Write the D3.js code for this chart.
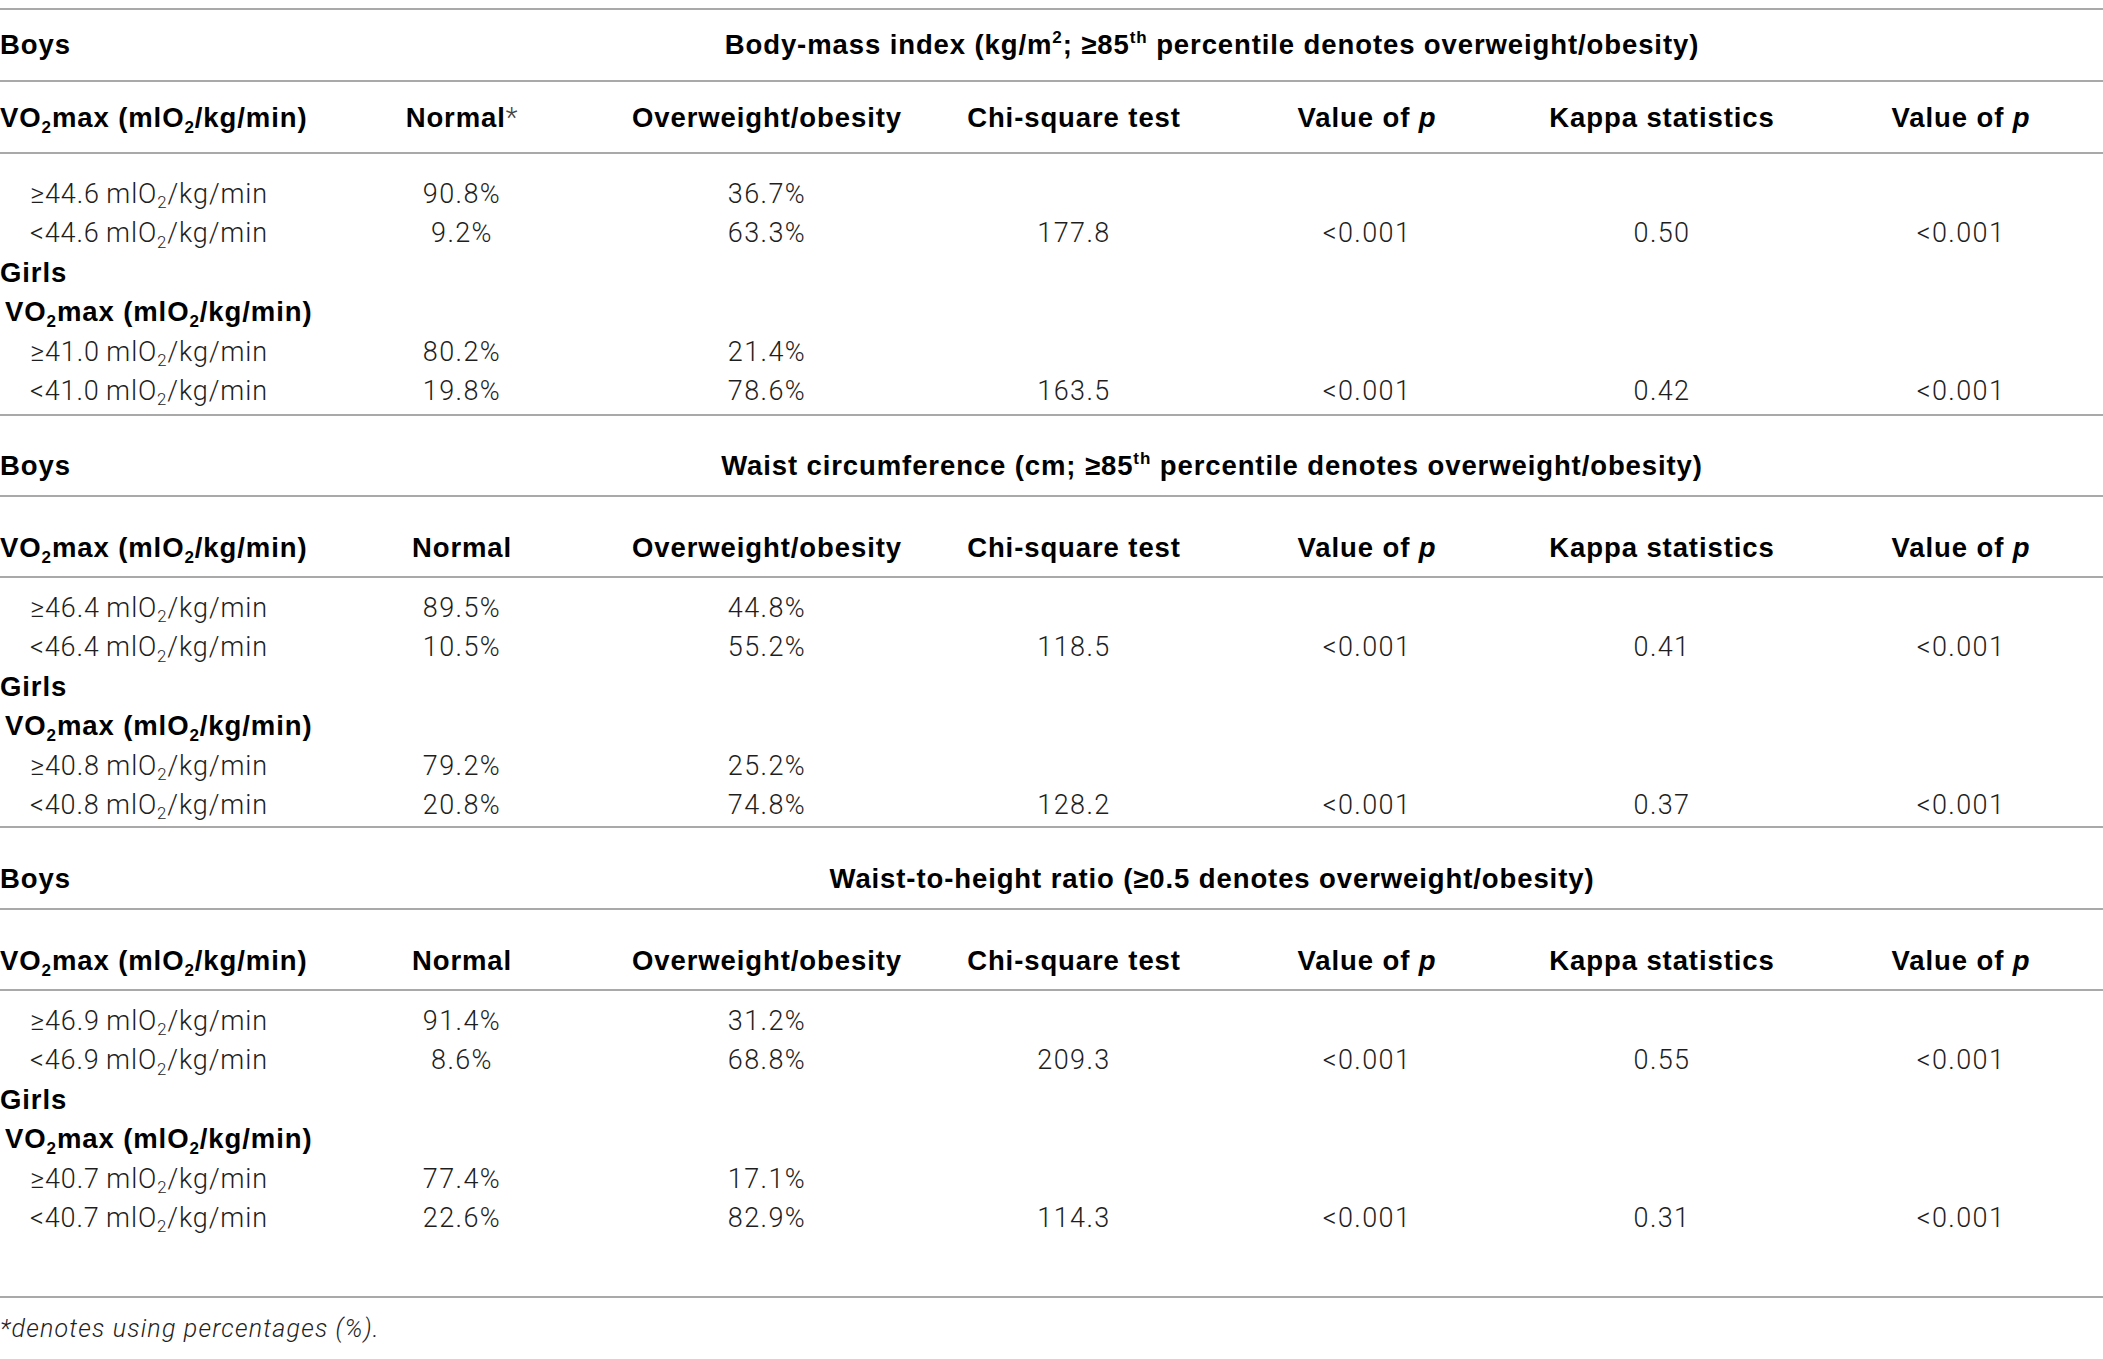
<!DOCTYPE html>
<html>
<head>
<meta charset="utf-8">
<script src="https://cdn.jsdelivr.net/npm/d3@7"></script>
<style>
  body { margin: 0; background: #fff; }
  text { font-family: Roboto, "Liberation Sans", sans-serif; }
</style>
</head>
<body>
<div id="chart-area"></div>
<script>

// Table content
var measures = [
	"Body-mass index (kg/m^{2}; ≥85^{th} percentile denotes overweight/obesity)",
	"Waist circumference (cm; ≥85^{th} percentile denotes overweight/obesity)",
	"Waist-to-height ratio (≥0.5 denotes overweight/obesity)"
];
var sexes = ["Boys", "Girls"];
var columns = ["VO_{2}max (mlO_{2}/kg/min)", "Normal", "Overweight/obesity", "Chi-square test", "Value of *{p}", "Kappa statistics", "Value of *{p}"];
var colKeys = ["label", "normal", "over", "chi", "pChi", "kappa", "pKappa"];

// cut-off of VO2max per measure: [boys, girls]
var cutoffs = [["44.6", "41.0"], ["46.4", "40.8"], ["46.9", "40.7"]];
// percentages per measure, per sex: [above cut-off, below cut-off]
var normalPct = [[[90.8, 9.2], [80.2, 19.8]], [[89.5, 10.5], [79.2, 20.8]], [[91.4, 8.6], [77.4, 22.6]]];
var overPct = [[[36.7, 63.3], [21.4, 78.6]], [[44.8, 55.2], [25.2, 74.8]], [[31.2, 68.8], [17.1, 82.9]]];
var chiSquare = [[177.8, 163.5], [118.5, 128.2], [209.3, 114.3]];
var pChi = [["<0.001", "<0.001"], ["<0.001", "<0.001"], ["<0.001", "<0.001"]];
var kappa = [[0.50, 0.42], [0.41, 0.37], [0.55, 0.31]];
var pKappa = [["<0.001", "<0.001"], ["<0.001", "<0.001"], ["<0.001", "<0.001"]];
var footnote = "*denotes using percentages (%).";

var width = 2103,
	height = 1359;

var fs = 27;        // body font size
var fsBold = 27.5;

// vertical layout of the three blocks (baselines and rules)
var blocks = [
	{top: 9, title: 54, rule1: 81, head: 127, rule2: 153, row0: 203},
	{top: 415, title: 475, rule1: 496, head: 557, rule2: 577, row0: 617},
	{top: 827, title: 888, rule1: 909, head: 970, rule2: 990, row0: 1030}
];
var bottomRule = 1297, footY = 1337;

var svg = d3.select("#chart-area").append("svg")
	.attr("width", width)
	.attr("height", height);

var colX = d3.scaleOrdinal()
	.domain(colKeys)
	.range([0, 462, 767, 1074, 1367, 1662, 1961]);

var pctFmt = function(v) { return d3.format(".1f")(v) + "%"; };

// parse little markup: _{sub} ^{sup} *{italic} !{light}
var parse = function(str) {
	var segs = [], re = /([_^*!])\{([^}]*)\}/g, last = 0, m;
	while ((m = re.exec(str)) !== null) {
		if (m.index > last) segs.push({t: str.slice(last, m.index)});
		segs.push({t: m[2], mode: m[1]});
		last = re.lastIndex;
	}
	if (last < str.length) segs.push({t: str.slice(last)});
	return segs;
};

var rich = function(x, y, str, opt) {
	var size = opt.size || fs;
	var t = svg.append("text")
		.attr("x", x)
		.attr("y", y)
		.attr("font-size", size)
		.attr("font-weight", opt.bold ? 700 : 300)
		.attr("fill", opt.bold ? "#000" : "#1e1e1e")
		.attr("letter-spacing", opt.spacing != null ? opt.spacing : (opt.bold ? 0.9 : 1.4))
		.attr("text-anchor", opt.anchor || "start");
	if (opt.bold) t.style("font-family", "'Liberation Sans', Arial, sans-serif");
	if (opt.italic) t.attr("font-style", "italic");
	var shift = 0;
	parse(str).forEach(function(s) {
		var ts = t.append("tspan").text(s.t);
		var target = 0;
		if (s.mode == "_") { ts.attr("font-size", size * 0.62); target = size * 0.2; }
		if (s.mode == "^") { ts.attr("font-size", size * 0.62); target = -size * 0.4; }
		if (s.mode == "*") ts.attr("font-style", "italic");
		if (s.mode == "!") ts.attr("font-weight", 300).attr("fill", "#444")
			.style("font-family", "Roboto, sans-serif");
		if (target != shift) { ts.attr("dy", target - shift); shift = target; }
	});
	return t;
};

var rule = function(y) {
	svg.append("line")
		.attr("x1", 0).attr("x2", width)
		.attr("y1", y).attr("y2", y)
		.attr("stroke", "#8c8c8c")
		.attr("stroke-width", 1.6);
};

measures.forEach(function(m, i) {
	var b = blocks[i];
	var rowY = d3.scaleLinear().domain([0, 5]).range([b.row0, b.row0 + 197]);

	rule(b.top);
	rich(0, b.title, sexes[0], {bold: true, size: fsBold});
	rich(1212, b.title, m, {bold: true, size: fsBold, anchor: "middle"});
	rule(b.rule1);

	columns.forEach(function(c, j) {
		var txt = c;
		if (i == 0 && colKeys[j] == "normal") txt = c + "!{*}";
		rich(colX(colKeys[j]), b.head, txt, {bold: true, size: fsBold, anchor: j == 0 ? "start" : "middle"});
	});
	rule(b.rule2);

	sexes.forEach(function(sex, s) {
		var base = s * 4;
		if (s == 1) {
			rich(0, rowY(2), sex, {bold: true, size: fsBold});
			rich(5, rowY(3), columns[0], {bold: true, size: fsBold});
		}
		["≥", "<"].forEach(function(sign, k) {
			var y = rowY(base + k);
			rich(30, y, sign + cutoffs[i][s] + "\u2009mlO_{2}/kg/min", {spacing: 0.9});
			rich(colX("normal"), y, pctFmt(normalPct[i][s][k]), {anchor: "middle"});
			rich(colX("over"), y, pctFmt(overPct[i][s][k]), {anchor: "middle"});
			if (k == 1) {
				rich(colX("chi"), y, d3.format(".1f")(chiSquare[i][s]), {anchor: "middle"});
				rich(colX("pChi"), y, pChi[i][s], {anchor: "middle"});
				rich(colX("kappa"), y, d3.format(".2f")(kappa[i][s]), {anchor: "middle"});
				rich(colX("pKappa"), y, pKappa[i][s], {anchor: "middle"});
			}
		});
	});
});

rule(bottomRule);
rich(0, footY, footnote, {italic: true, size: 25, spacing: 1.2});

</script>
</body>
</html>
